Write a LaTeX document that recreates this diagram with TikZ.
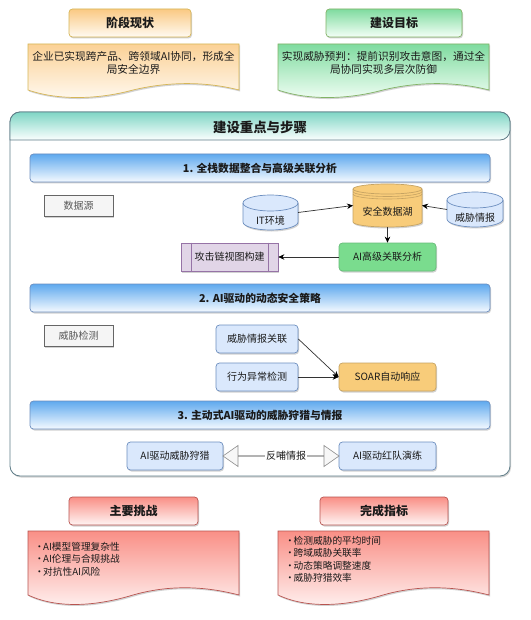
\documentclass[tikz,border=0pt]{standalone}
\usepackage{fontspec}
\setmainfont{Noto Sans CJK SC}
\usetikzlibrary{arrows.meta,shadows,shapes.arrows}
\definecolor{txt}{HTML}{1A1A1A}
\definecolor{orT}{HTML}{FAC983}\definecolor{orB}{HTML}{FFFAF2}\definecolor{orS}{HTML}{D6B656}
\definecolor{grT}{HTML}{7FDB9F}\definecolor{grB}{HTML}{F4FFF7}\definecolor{grS}{HTML}{82B366}
\definecolor{rdT}{HTML}{F98F86}\definecolor{rdB}{HTML}{FFF4F3}\definecolor{rdS}{HTML}{B85450}
\definecolor{tlT}{HTML}{7FD5C5}\definecolor{tlB}{HTML}{FBFFFE}\definecolor{tlS}{HTML}{5F7D88}
\definecolor{blT}{HTML}{5FA9EE}\definecolor{blB}{HTML}{F5FAFF}\definecolor{blS}{HTML}{6C8EBF}
\definecolor{boxB}{HTML}{DAE8FC}
\definecolor{lake}{HTML}{F8CC7A}
\definecolor{aigr}{HTML}{7ADC8E}
\definecolor{purp}{HTML}{E1D5E7}\definecolor{purS}{HTML}{9673A6}
\newcommand{\lst}{\makebox[7pt][l]{\hspace{-1.5pt}•}}
\tikzset{
  softshadow/.style={drop shadow={shadow xshift=1pt,shadow yshift=-1.5pt,opacity=.25,fill=black!70}},
  basebox/.style={draw,rounded corners=3.5pt,line width=.7pt,inner sep=0pt,text=txt,softshadow,font=\fontsize{10}{12}\selectfont},
  headbox/.style={basebox,minimum height=28pt,font=\fontsize{12}{14}\selectfont\bfseries},
  orangehead/.style={headbox,draw=orS,top color=orT,bottom color=orB},
  greenhead/.style={headbox,draw=grS,top color=grT,bottom color=grB},
  redhead/.style={headbox,draw=rdS,top color=rdT,bottom color=rdB},
  barbox/.style={basebox,draw=blS,top color=blT,bottom color=blB,minimum width=460pt,minimum height=28pt,font=\fontsize{10.8}{12}\selectfont\bfseries},
  graybox/.style={draw=black!60,fill=black!4,line width=.7pt,inner sep=0pt,text=black!65,minimum width=69pt,minimum height=21pt,softshadow,font=\fontsize{10}{12}\selectfont},
  bluebox/.style={basebox,draw=blS,fill=boxB,minimum height=28pt},
  doctext/.style={inner sep=0pt,text=txt,font=\fontsize{10.7}{12.5}\selectfont},
  listtext/.style={inner sep=0pt,text=txt,align=left,anchor=north west,font=\fontsize{9.7}{12.5}\selectfont},
  docshape/.style={line width=.7pt,softshadow},
  conn/.style={draw=black!80,line width=.7pt,-{Stealth[length=6pt,width=5.5pt,color=black]}},
}
% name, left, top, right, bottom, ry, fill, stroke, extra lines (0/1)
\newcommand{\drumshape}[9]{%
  \pgfmathsetmacro\dcx{(#2+#4)/2}%
  \pgfmathsetmacro\dcy{(#3+#5)/2}%
  \pgfmathsetmacro\drx{(#4-#2)/2}%
  \pgfmathsetmacro\dw{#4-#2}%
  \pgfmathsetmacro\dh{#5-#3}%
  \pgfmathsetmacro\dty{#3+#6}%
  \pgfmathsetmacro\dby{#5-#6}%
  \draw[draw=#8,fill=#7,line width=.7pt,softshadow]
    (#2,\dty) arc[start angle=180,end angle=0,x radius=\drx pt,y radius=#6 pt]
    -- (#4,\dby) arc[start angle=0,end angle=-180,x radius=\drx pt,y radius=#6 pt] -- cycle;
  \draw[draw=#8,line width=.7pt] (#2,\dty) arc[start angle=180,end angle=360,x radius=\drx pt,y radius=#6 pt];
  \ifnum#9=1
    \draw[draw=#8,line width=.6pt] (#2,\dty+2.5) arc[start angle=180,end angle=360,x radius=\drx pt,y radius=#6 pt];
    \draw[draw=#8,line width=.6pt] (#2,\dty+5) arc[start angle=180,end angle=360,x radius=\drx pt,y radius=#6 pt];
  \fi
  \node[inner sep=0pt,outer sep=0pt,minimum width=\dw pt,minimum height=\dh pt] (#1) at (\dcx,\dcy) {};
}
\begin{document}
\begin{tikzpicture}[x=1pt,y=-1pt]
\useasboundingbox (0,0) rectangle (530,620);
\fill[white] (0,0) rectangle (530,620);

% top headers
\node[orangehead,minimum width=122pt] (status) at (130,23) {阶段现状};
\node[greenhead,minimum width=136pt] (goal) at (394,23) {建设目标};

% top documents
\path[docshape,draw=orS,top color=orT!85!white,bottom color=orB]
  (28,44) -- (239,44) -- (239,90) .. controls (212,83) and (175,80) .. (133,90) .. controls (100,99) and (60,101) .. (28,90) -- cycle;
\path[docshape,draw=grS,top color=grT,bottom color=grB]
  (278,44) -- (489,44) -- (489,90) .. controls (462,83) and (425,80) .. (383,90) .. controls (350,99) and (310,101) .. (278,90) -- cycle;
\node[doctext,align=center] (statustext) at (133.5,63) {企业已实现跨产品、跨领域AI协同，形成全\\局安全边界};
\node[doctext,align=center] (goaltext) at (383.5,63) {实现威胁预判：提前识别攻击意图，通过全\\局协同实现多层次防御};

% main container
\node[draw=tlS,fill=white,line width=.8pt,rounded corners=10pt,minimum width=500pt,minimum height=364pt,inner sep=0pt,softshadow] (main) at (260,294) {};
\path[draw=tlS,line width=.8pt,top color=tlT,bottom color=tlB,rounded corners=10pt]
  (10,140) -- (10,112) -- (510,112) -- (510,140) [sharp corners] -- cycle;
\node[inner sep=0pt,text=txt,font=\fontsize{13.4}{15}\selectfont\bfseries] (maintitle) at (260,127) {建设重点与步骤};

% section bars
\node[barbox] (bar1) at (260,168) {1. 全栈数据整合与高级关联分析};
\node[barbox] (bar2) at (260,298) {2. AI驱动的动态安全策略};
\node[barbox] (bar3) at (260,415) {3. 主动式AI驱动的威胁狩猎与情报};

% section 1
\node[graybox] (src) at (78.5,205.5) {数据源};
\drumshape{it}{243}{195}{298}{230}{8}{boxB}{blS}{0}
\drumshape{lakenode}{353}{184}{422}{227}{5}{lake}{lake!80!black}{1}
\drumshape{intel}{447}{192}{503}{227}{8}{boxB}{blS}{0}
\node[inner sep=0pt,text=txt,font=\fontsize{10}{12}\selectfont] (ittext) at (270.5,221) {IT环境};
\node[inner sep=0pt,text=txt,font=\fontsize{10}{12}\selectfont] (laketext) at (387.5,212) {安全数据湖};
\node[inner sep=0pt,text=txt,font=\fontsize{10}{12}\selectfont] (inteltext) at (475,218) {威胁情报};
\node[basebox,draw=aigr!85!black,fill=aigr,minimum width=97pt,minimum height=28pt] (aian) at (387.5,257) {AI高级关联分析};
\node[draw=purS,fill=purp,line width=.7pt,minimum width=97pt,minimum height=28pt,inner sep=0pt,text=txt,softshadow,font=\fontsize{10}{12}\selectfont] (chain) at (229.5,257) {攻击链视图构建};
\draw[draw=purS,line width=.7pt] ([xshift=10.5pt]chain.north west) -- ([xshift=10.5pt]chain.south west);
\draw[draw=purS,line width=.7pt] ([xshift=-10.5pt]chain.north east) -- ([xshift=-10.5pt]chain.south east);
\draw[conn] (it.east) -- (lakenode.west);
\draw[conn] (intel.west) -- (lakenode.east);
\draw[conn] (lakenode.south) -- (aian.north);
\draw[conn] (aian.west) -- (chain.east);

% section 2
\node[graybox] (det) at (78.5,335.5) {威胁检测};
\node[bluebox,minimum width=82pt] (corr) at (257,339) {威胁情报关联};
\node[bluebox,minimum width=82pt] (anom) at (257,377) {行为异常检测};
\node[basebox,draw=lake!80!black,fill=lake,minimum width=97pt,minimum height=28pt] (soar) at (387.5,377) {SOAR自动响应};
\draw[conn] (corr.east) -- (soar.west);
\draw[conn] (anom.east) -- (soar.west);

% section 3
\node[bluebox,minimum width=96pt] (hunt) at (175,456) {AI驱动威胁狩猎};
\node[bluebox,minimum width=97pt] (red) at (387.5,456) {AI驱动红队演练};
\node[double arrow,draw=black!45,fill=black!3,line width=.6pt,inner sep=0pt,outer sep=0pt,
      minimum height=116pt,minimum width=21pt,double arrow head extend=7pt,double arrow tip angle=70] (fb) at (281,456) {};
\node[fill=white,inner sep=.8pt,text=txt,font=\fontsize{10}{12}\selectfont] (fbtext) at (286,456) {反哺情报};

% bottom headers
\node[redhead,minimum width=129pt] (chal) at (133.5,511) {主要挑战};
\node[redhead,minimum width=128pt] (kpi) at (384,511) {完成指标};

% bottom documents
\path[docshape,draw=rdS,top color=rdT,bottom color=rdB]
  (28,531) -- (239,531) -- (239,595) .. controls (212,588) and (175,583) .. (133,595) .. controls (100,605) and (60,610) .. (28,595) -- cycle;
\path[docshape,draw=rdS,top color=rdT,bottom color=rdB]
  (278,531) -- (489,531) -- (489,595) .. controls (462,588) and (425,583) .. (383,595) .. controls (350,605) and (310,610) .. (278,595) -- cycle;
\node[listtext] (chaltext) at (36,542) {\lst AI模型管理复杂性\\\lst AI伦理与合规挑战\\\lst 对抗性AI风险};
\node[listtext] (kpitext) at (286.5,536) {\lst 检测威胁的平均时间\\\lst 跨域威胁关联率\\\lst 动态策略调整速度\\\lst 威胁狩猎效率};
\end{tikzpicture}
\end{document}
